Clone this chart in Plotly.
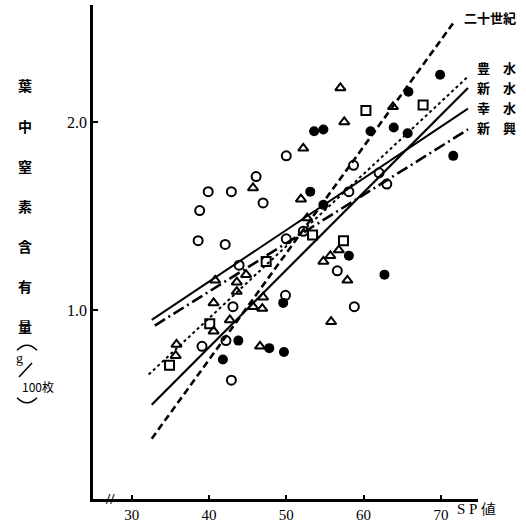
import plotly.graph_objects as go

# ---- data ----
filled_x = [69.9, 65.8, 53.6, 54.8, 60.9, 63.9, 65.7, 71.6, 53.1, 54.8, 58.1, 62.7, 49.6, 43.8, 41.8, 47.8, 49.7]
filled_y = [2.25, 2.16, 1.95, 1.96, 1.95, 1.97, 1.94, 1.82, 1.63, 1.56, 1.29, 1.19, 1.04, 0.84, 0.74, 0.80, 0.78]

open_x = [50.0, 46.1, 39.9, 42.9, 47.0, 38.8, 38.6, 42.1, 50.0, 52.2, 58.7, 62.0, 63.0, 58.1, 56.6, 58.8, 43.9, 49.9, 43.1, 42.2, 39.1, 42.9]
open_y = [1.82, 1.71, 1.63, 1.63, 1.57, 1.53, 1.37, 1.35, 1.38, 1.42, 1.77, 1.73, 1.67, 1.63, 1.21, 1.02, 1.24, 1.08, 1.02, 0.84, 0.81, 0.63]

tri_x = [57.0, 57.5, 52.2, 63.8, 45.7, 51.9, 52.7, 54.8, 55.7, 56.8, 57.9, 55.8, 44.8, 40.8, 43.6, 43.6, 40.6, 45.7, 47.0, 46.9, 42.7, 40.6, 35.8, 35.7, 46.6]
tri_y = [2.18, 2.00, 1.86, 2.08, 1.65, 1.59, 1.49, 1.26, 1.29, 1.32, 1.16, 0.94, 1.19, 1.16, 1.15, 1.10, 1.04, 1.02, 1.07, 1.01, 0.95, 0.89, 0.82, 0.76, 0.81]

sq_x = [60.3, 67.7, 53.4, 57.4, 47.4, 40.1, 34.9]
sq_y = [2.06, 2.09, 1.40, 1.37, 1.26, 0.93, 0.71]

# regression lines (end points)
line_names = ["二十世紀", "豊　水", "新　水", "幸　水", "新　興"]
line_x0 = [32.6, 32.2, 32.6, 32.6, 33.0]
line_x1 = [71.7, 73.5, 73.5, 73.5, 73.5]
line_y0 = [0.32, 0.66, 0.50, 0.95, 0.92]
line_y1 = [2.53, 2.24, 2.18, 2.07, 1.96]
line_dash = ["7px,4px", "3px,3px", "solid", "solid", "12px,4px,2px,4px"]
line_width = [2.6, 2.0, 2.2, 2.0, 2.6]

x_ticks = [30, 40, 50, 60, 70]
y_ticks = [1.0, 2.0]
y_ticklabels = ["1.0", "2.0"]

# ---- layout geometry (pixels) ----
W, H = 526, 528
L, R, T, B = 93, 48, 5, 25
pw, ph = W - L - R, H - T - B

def px(xp):
    return (xp - L) / pw

def py(yp):
    return (H - B - yp) / ph

fig = go.Figure()

for i in range(len(line_names)):
    fig.add_trace(go.Scatter(
        x=[line_x0[i], line_x1[i]], y=[line_y0[i], line_y1[i]], mode="lines",
        line=dict(color="black", width=line_width[i], dash=line_dash[i]),
        showlegend=False, hoverinfo="skip"))

mk_line = dict(color="black", width=2)
fig.add_trace(go.Scatter(x=filled_x, y=filled_y, mode="markers",
                         marker=dict(symbol="circle", size=10, color="black"),
                         showlegend=False))
fig.add_trace(go.Scatter(x=open_x, y=open_y, mode="markers",
                         marker=dict(symbol="circle-open", size=9, color="black", line=mk_line),
                         showlegend=False))
fig.add_trace(go.Scatter(x=tri_x, y=tri_y, mode="markers",
                         marker=dict(symbol="triangle-up-open", size=9, color="black", line=mk_line),
                         showlegend=False))
fig.add_trace(go.Scatter(x=sq_x, y=sq_y, mode="markers",
                         marker=dict(symbol="square-open", size=9, color="black", line=mk_line),
                         showlegend=False))

cjk = "Noto Sans CJK JP"
serif = "Liberation Serif"
ann = []

# line labels at right
label_y = [18, 68, 88, 108, 128]
label_x = [462, 475, 475, 475, 475]
for i, name in enumerate(line_names):
    ann.append(dict(text="<b>" + name + "</b>", x=px(label_x[i]), y=py(label_y[i]),
                    xref="paper", yref="paper", xanchor="left", yanchor="middle",
                    showarrow=False, font=dict(family=cjk, size=13, color="#000000")))

# y-axis title (vertical)
ytitle = ["葉", "中", "窒", "素", "含", "有", "量"]
for k, ch in enumerate(ytitle):
    ann.append(dict(text="<b>" + ch + "</b>", x=px(25), y=py(86 + 40.5 * k),
                    xref="paper", yref="paper", xanchor="center", yanchor="middle",
                    showarrow=False, font=dict(family=cjk, size=14, color="#000000")))
ann.append(dict(text="g", x=px(19), y=py(361), xref="paper", yref="paper",
                xanchor="center", yanchor="middle", showarrow=False,
                font=dict(family=serif, size=14, color="#000000")))
ann.append(dict(text="100枚", x=px(20), y=py(390), xref="paper", yref="paper",
                xanchor="left", yanchor="middle", showarrow=False,
                font=dict(family=cjk, size=12, color="#000000")))

# x-axis title
ann.append(dict(text="S P 値", x=px(455), y=py(513), xref="paper", yref="paper",
                xanchor="left", yanchor="middle", showarrow=False,
                font=dict(family=serif, size=15, color="#000000")))

# axis break mark
ann.append(dict(text="<b>//</b>", x=px(110), y=py(503), xref="paper", yref="paper",
                xanchor="center", yanchor="middle", showarrow=False,
                font=dict(family=serif, size=15, color="#000000")))

# parentheses arcs and slash of the unit (decoration, paper coords)
def pth(pts):
    (a, b), (c, d), (e, f) = pts
    return f"M {px(a)},{py(b)} Q {px(c)},{py(d)} {px(e)},{py(f)}"

shapes = [
    dict(type="path", xref="paper", yref="paper", path=pth([(17, 353), (27, 343), (37, 353)]),
         line=dict(color="black", width=1.5)),
    dict(type="path", xref="paper", yref="paper", path=pth([(17, 401), (27, 411), (37, 401)]),
         line=dict(color="black", width=1.5)),
    dict(type="line", xref="paper", yref="paper", x0=px(19), y0=py(380), x1=px(32), y1=py(366),
         line=dict(color="black", width=1.5)),
]

fig.update_layout(
    width=W, height=H,
    margin=dict(l=L, r=R, t=T, b=B),
    paper_bgcolor="white", plot_bgcolor="white",
    annotations=ann, shapes=shapes,
    xaxis=dict(range=[25, 74.8], tickvals=x_ticks, ticks="inside", ticklen=4,
               tickwidth=2, tickcolor="black", showline=True, linecolor="black",
               linewidth=2.5, showgrid=False, zeroline=False,
               tickfont=dict(family=serif, size=15, color="black")),
    yaxis=dict(range=[0, 2.62], tickvals=y_ticks, ticktext=y_ticklabels,
               ticks="inside", ticklen=5, tickwidth=2, tickcolor="black",
               showline=True, linecolor="black", linewidth=2.5, showgrid=False,
               zeroline=False, tickfont=dict(family=serif, size=16, color="black")),
)

fig.write_html("out.html", config={"displayModeBar": False},
               post_script="document.body.style.margin='0';document.body.style.padding='0';")
